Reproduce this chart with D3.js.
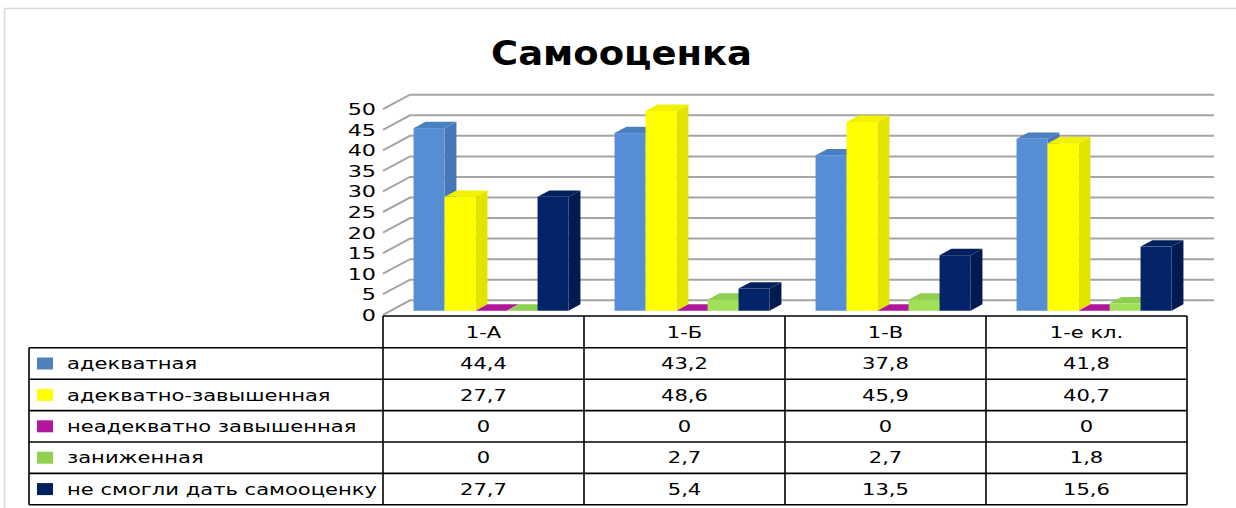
<!DOCTYPE html>
<html><head><meta charset="utf-8">
<script src="https://cdn.jsdelivr.net/npm/d3@7"></script>
<style>html,body{margin:0;padding:0;background:#fff;overflow:hidden}</style>
</head><body>
<svg id="c" width="1236" height="508"></svg>
<script>
const title = "Самооценка";
const categories = ["1-А", "1-Б", "1-В", "1-е кл."];
const seriesNames = ["адекватная", "адекватно-завышенная", "неадекватно завышенная", "заниженная", "не смогли дать самооценку"];
const adekvatnaya = [44.4, 43.2, 37.8, 41.8];
const adekvatnoZavyshennaya = [27.7, 48.6, 45.9, 40.7];
const neadekvatnoZavyshennaya = [0, 0, 0, 0];
const zanizhennaya = [0, 2.7, 2.7, 1.8];
const neSmogli = [27.7, 5.4, 13.5, 15.6];
const yTicks = [0, 5, 10, 15, 20, 25, 30, 35, 40, 45, 50];

const seriesValues = [adekvatnaya, adekvatnoZavyshennaya, neadekvatnoZavyshennaya, zanizhennaya, neSmogli];
const colors = [
  {front: "#558ed5", side: "#4677b8", top: "#4a7fc0"},
  {front: "#ffff00", side: "#e3e300", top: "#f2f200"},
  {front: "#b0169a", side: "#93107f", top: "#b0169a"},
  {front: "#a2e05a", side: "#86c44a", top: "#8fcf50"},
  {front: "#032469", side: "#011b50", top: "#02205c"}
];
const legendColors = ["#4f81bd", "#ffff00", "#b3179c", "#92d050", "#002060"];

const svg = d3.select("#c");
const fmt = v => String(v).replace(".", ",");

// frame
svg.append("path").attr("d", "M4.5,508 V8.5 H1236").attr("fill", "none").attr("stroke", "#d9d9d9").attr("stroke-width", 1.5);

// 3D geometry
const DX = 27, DY = -14.5;
const x = d3.scaleBand().domain(categories).range([383, 1187]);
const x1 = d3.scaleBand().domain(seriesNames).range([23, 178]);
const y = d3.scaleLinear().domain([0, 50]).range([314.8, 109.2]);

const FONT = "DejaVu Sans";
const fs = 15.6;

// measure stretch factor
const probe = svg.append("text").attr("font-family", FONT).attr("font-size", fs).text(seriesNames[4]);
const natW = probe.node().getComputedTextLength();
probe.remove();
const sx = 310 / natW;

function stretchText(g, tx, ty, str, anchor, size, weight, scale) {
  return g.append("text")
    .attr("transform", `translate(${tx},${ty}) scale(${scale},1)`)
    .attr("text-anchor", anchor)
    .attr("font-family", FONT)
    .attr("font-size", size)
    .attr("font-weight", weight || "normal")
    .attr("fill", "#000")
    .text(str);
}

// title
const tprobe = svg.append("text").attr("font-family", FONT).attr("font-size", 33).attr("font-weight", "bold").text(title);
const tW = tprobe.node().getComputedTextLength();
tprobe.remove();
stretchText(svg, 621.5, 65, title, "middle", 33, "bold", 261 / tW);

// gridlines: back wall + left wall
const grid = svg.append("g").attr("stroke", "#a5a5a5").attr("stroke-width", 2).attr("fill", "none");
yTicks.forEach(t => {
  const yf = y(t);
  grid.append("path").attr("d", `M${383},${yf} L${383 + DX},${yf + DY} L${1187 + DX},${yf + DY}`);
});

// y labels
const yl = svg.append("g");
yTicks.forEach(t => {
  stretchText(yl, 376, y(t) + 6, String(t), "end", 16.5, "normal", sx);
});

// bars
const zf = 0.28, zd = 0.44;
const bw = x1.bandwidth();
const bars = svg.append("g");
categories.forEach((c, ci) => {
  seriesNames.forEach((s, si) => {
    const v = seriesValues[si][ci];
    const col = colors[si];
    const x0 = x(c) + x1(s) + DX * zf;
    const yb = y(0) + DY * zf;
    const yt = y(v) + DY * zf;
    const ddx = DX * zd, ddy = DY * zd;
    const g = bars.append("g");
    // side
    g.append("polygon")
      .attr("points", [[x0 + bw, yt], [x0 + bw + ddx, yt + ddy], [x0 + bw + ddx, yb + ddy], [x0 + bw, yb]].map(p => p.join(",")).join(" "))
      .attr("fill", col.side);
    // front
    if (yb - yt > 0) {
      g.append("rect").attr("x", x0).attr("y", yt).attr("width", bw).attr("height", yb - yt).attr("fill", col.front);
    }
    // top
    g.append("polygon")
      .attr("points", [[x0, yt], [x0 + bw, yt], [x0 + bw + ddx, yt + ddy], [x0 + ddx, yt + ddy]].map(p => p.join(",")).join(" "))
      .attr("fill", col.top);
  });
});

// data table
const rowH = 31.4;
const headTop = 316, headBot = 347.8;
const tbl = svg.append("g");
const lines = tbl.append("g").attr("stroke", "#000").attr("stroke-width", 1.6).attr("fill", "none");
lines.append("path").attr("d", `M383,${headTop} H1187`);
categories.forEach((c, i) => {
  stretchText(tbl, x(c) + x.bandwidth() / 2, (headTop + headBot) / 2 + 5.6, c, "middle", fs, "normal", sx);
});
const bottom = headBot + rowH * seriesNames.length;
lines.append("path").attr("d", `M383,${headTop} V${bottom}`);
categories.forEach(c => {
  lines.append("path").attr("d", `M${x(c) + x.bandwidth()},${headTop} V${bottom}`);
});
lines.append("path").attr("d", `M29,${headBot} V${bottom}`);
for (let i = 0; i <= seriesNames.length; i++) {
  lines.append("path").attr("d", `M29,${headBot + rowH * i} H1187`);
}
seriesNames.forEach((s, si) => {
  const cy = headBot + rowH * si + rowH / 2;
  tbl.append("rect").attr("x", 37).attr("y", cy - 6).attr("width", 16).attr("height", 12).attr("fill", legendColors[si]);
  stretchText(tbl, 67, cy + 5.6, s, "start", fs, "normal", sx);
  categories.forEach((c, ci) => {
    stretchText(tbl, x(c) + x.bandwidth() / 2, cy + 5.6, fmt(seriesValues[si][ci]), "middle", fs, "normal", sx);
  });
});
</script>
</body></html>
